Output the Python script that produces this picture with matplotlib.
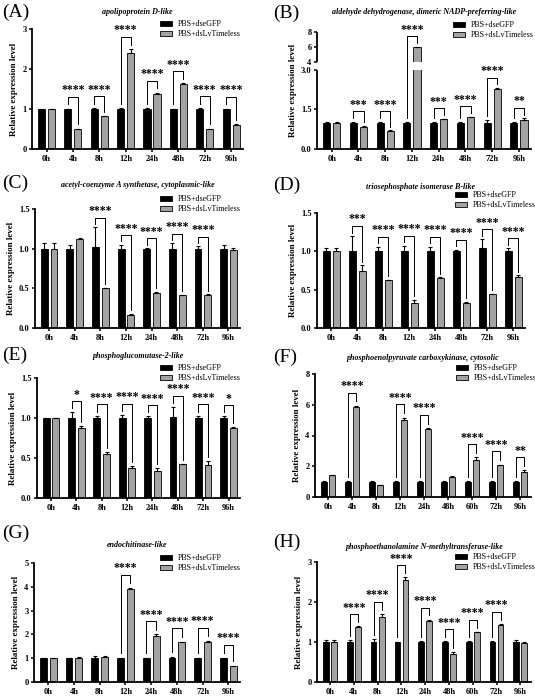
import numpy as np
import matplotlib
matplotlib.use("Agg")
from matplotlib import pyplot as plt
from matplotlib.ticker import FixedLocator, FixedFormatter

plt.rcParams['font.family'] = ['Liberation Serif', 'DejaVu Serif']

times8 = ["0h", "4h", "8h", "12h", "24h", "48h", "72h", "96h"]
times9 = ["0h", "4h", "8h", "12h", "24h", "48h", "60h", "72h", "96h"]

# (A) apolipoprotein D-like
a_ctrl = [1, 1, 1, 1, 1, 1, 1, 1]
a_ctrl_err = [0.01, 0.01, 0.02, 0.02, 0.02, 0.01, 0.02, 0.01]
a_kd = [1.0, 0.5, 0.82, 2.4, 1.38, 1.62, 0.5, 0.6]
a_kd_err = [0.01, 0.01, 0.01, 0.1, 0.03, 0.02, 0.01, 0.02]
a_sig = ["", "****", "****", "****", "****", "****", "****", "****"]

# (B) aldehyde dehydrogenase
b_ctrl = [1, 1, 1, 1, 1, 1, 1, 1]
b_ctrl_err = [0.03, 0.03, 0.03, 0.03, 0.02, 0.03, 0.1, 0.04]
b_kd = [1.0, 0.85, 0.68, 6.0, 1.12, 1.2, 2.28, 1.1]
b_kd_err = [0.04, 0.02, 0.03, 0.05, 0.03, 0.02, 0.03, 0.06]
b_sig = ["", "***", "****", "****", "***", "****", "****", "**"]

# (C) acetyl-coenzyme A synthetase
c_ctrl = [1.0, 1.0, 1.02, 1.0, 1.0, 1.0, 1.0, 1.0]
c_ctrl_err = [0.07, 0.05, 0.25, 0.05, 0.01, 0.07, 0.03, 0.05]
c_kd = [1.0, 1.12, 0.5, 0.17, 0.44, 0.41, 0.41, 0.98]
c_kd_err = [0.07, 0.01, 0.01, 0.01, 0.02, 0.01, 0.02, 0.03]
c_sig = ["", "", "****", "****", "****", "****", "****", ""]

# (D) triosephosphate isomerase B-like
d_ctrl = [1.0, 1.01, 1.0, 1.0, 1.0, 1.0, 1.05, 1.0]
d_ctrl_err = [0.05, 0.19, 0.06, 0.07, 0.06, 0.02, 0.11, 0.04]
d_kd = [1.0, 0.74, 0.62, 0.33, 0.65, 0.33, 0.44, 0.66]
d_kd_err = [0.05, 0.08, 0.01, 0.04, 0.01, 0.01, 0.01, 0.03]
d_sig = ["", "***", "****", "****", "****", "****", "****", "****"]

# (E) phosphoglucomutase-2-like
e_ctrl = [1.0, 1.0, 1.0, 1.0, 1.0, 1.01, 1.0, 1.0]
e_ctrl_err = [0.005, 0.07, 0.03, 0.04, 0.02, 0.13, 0.03, 0.02]
e_kd = [1.0, 0.87, 0.55, 0.38, 0.34, 0.42, 0.41, 0.88]
e_kd_err = [0.005, 0.03, 0.02, 0.02, 0.03, 0.01, 0.05, 0.005]
e_sig = ["", "*", "****", "****", "****", "****", "****", "*"]

# (F) phosphoenolpyruvate carboxykinase
f_ctrl = [1, 1, 1, 1, 1, 1, 1, 1, 1]
f_ctrl_err = [0.02, 0.02, 0.02, 0.02, 0.02, 0.02, 0.02, 0.02, 0.02]
f_kd = [1.42, 5.88, 0.78, 5.02, 4.45, 1.3, 2.42, 2.08, 1.65]
f_kd_err = [0.03, 0.05, 0.03, 0.15, 0.03, 0.04, 0.15, 0.03, 0.08]
f_sig = ["", "****", "", "****", "****", "", "****", "****", "**"]

# (G) endochitinase-like
g_ctrl = [1, 1, 1, 1, 1, 1, 1, 1]
g_ctrl_err = [0.02, 0.01, 0.08, 0.02, 0.02, 0.07, 0.01, 0.02]
g_kd = [1.0, 1.0, 1.07, 3.9, 1.95, 1.68, 1.7, 0.67]
g_kd_err = [0.02, 0.03, 0.03, 0.05, 0.05, 0.02, 0.02, 0.02]
g_sig = ["", "", "", "****", "****", "****", "****", "****"]

# (H) phosphoethanolamine N-methyltransferase-like
h_ctrl = [1, 1, 1, 1, 1, 1, 1, 1, 1]
h_ctrl_err = [0.04, 0.04, 0.07, 0.01, 0.02, 0.02, 0.02, 0.02, 0.04]
h_kd = [1.0, 1.37, 1.63, 2.55, 1.52, 0.7, 1.24, 1.43, 0.97]
h_kd_err = [0.04, 0.02, 0.07, 0.07, 0.04, 0.04, 0.01, 0.02, 0.04]
h_sig = ["", "****", "****", "****", "****", "****", "****", "****", ""]

W, H = 535, 696
GRAY = "#a3a3a3"


def break_fwd(y):
    y = np.asarray(y, dtype=float)
    return np.where(y <= 3, y, np.where(y < 4, 3 + (y - 3) * 0.3, 3.3 + (y - 4) * 0.285))


def break_inv(t):
    t = np.asarray(t, dtype=float)
    return np.where(t <= 3, t, np.where(t < 3.3, 3 + (t - 3) / 0.3, 4 + (t - 3.3) / 0.285))


def panel(box, letter_pos, title_y, leg_pos, letter, title, labels, ctrl, ctrl_err, kd, kd_err,
          sig, ymax, yticks, ticklabels=None, pad=0.12, broken=False):
    l, r, t, b = box
    ax = fig.add_axes([l / W, 1 - b / H, (r - l) / W, (b - t) / H])
    n = len(labels)
    x = np.arange(n)
    w = 0.27 if n == 8 else 0.24
    off = 0.19 if n == 8 else 0.17
    ekw = dict(elinewidth=0.8, capsize=1.6, capthick=0.8, ecolor="black")
    ax.bar(x - off, ctrl, w, color="black", edgecolor="black", linewidth=0.6,
           yerr=[np.zeros(n), ctrl_err], error_kw=ekw, label="PBS+dseGFP", zorder=2)
    ax.bar(x + off, kd, w, color=GRAY, edgecolor="black", linewidth=0.6,
           yerr=[np.zeros(n), kd_err], error_kw=ekw, label="PBS+dsLvTimeless", zorder=2)
    if broken:
        ax.set_yscale("function", functions=(break_fwd, break_inv))
    ax.set_ylim(0, ymax)
    ax.set_xlim(-0.55, n - 0.55)

    # significance brackets
    for i in range(n):
        if not sig[i]:
            continue
        top1 = ctrl[i] + ctrl_err[i]
        top2 = kd[i] + kd_err[i]
        xs = [i - off, i - off, i + off, i + off]
        if broken:
            t1, t2 = break_fwd(top1), break_fwd(top2)
            hb = max(t1, t2) + pad
            ys = list(break_inv([t1 + pad * 0.35, hb, hb, t2 + pad * 0.35]))
            hs = float(break_inv(hb + 0.02))
        else:
            hb = max(top1, top2) + pad
            ys = [top1 + pad * 0.35, hb, hb, top2 + pad * 0.35]
            hs = hb + ymax * 0.005
        ax.plot(xs, ys, color="black", lw=0.7, zorder=3, clip_on=False)
        ax.text(i, hs, sig[i], ha="center", va="bottom", fontsize=8.5,
                fontweight="bold", zorder=4)

    ax.spines["top"].set_visible(False)
    ax.spines["right"].set_visible(False)
    ax.spines["left"].set_linewidth(1.3)
    ax.spines["bottom"].set_linewidth(1.3)
    ax.tick_params(axis="both", width=1.1, length=2.5, labelsize=6, pad=1.5)
    ax.set_xticks(x)
    ax.set_xticklabels(labels, fontweight="bold")
    ax.yaxis.set_major_locator(FixedLocator(yticks))
    if ticklabels is None:
        ticklabels = [str(v) for v in yticks]
    ax.yaxis.set_major_formatter(FixedFormatter(ticklabels))
    for tl in ax.get_yticklabels():
        tl.set_fontweight("bold")
    ax.set_ylabel("Relative expression level", fontsize=6.5, fontweight="bold", labelpad=3)

    if broken:
        # gap in the axis between 3.0 and 4
        ax.spines["left"].set_visible(False)
        tr = ax.get_yaxis_transform()
        ax.plot([0, 0], [0, 3], color="black", lw=1.3, transform=tr, clip_on=False,
                solid_capstyle="butt")
        ax.plot([0, 0], [4, ymax], color="black", lw=1.3, transform=tr, clip_on=False,
                solid_capstyle="butt")
        ax.axhspan(3.03, 3.97, xmin=0.005, xmax=1, color="white", zorder=2.5, lw=0)

    ax.legend(loc="upper left", bbox_to_anchor=(leg_pos[0] / W, 1 - (leg_pos[1] - 4) / H),
              bbox_transform=fig.transFigure, frameon=False, fontsize=5.8,
              handlelength=1.45, handleheight=0.55, handletextpad=0.7, labelspacing=0.3,
              borderaxespad=0, borderpad=0)
    fig.text(letter_pos[0] / W, 1 - letter_pos[1] / H, letter, fontsize=14,
             ha="left", va="center")
    fig.text((l + r) / 2 / W, 1 - title_y / H, title, fontsize=5.8, fontweight="bold",
             style="italic", ha="center", va="center")
    return ax


fig = plt.figure(figsize=(W / 100, H / 100), dpi=100)

panel((32, 243, 29, 149), (2, 12), 12, (160, 24), "(A)", "apolipoprotein D-like", times8,
      a_ctrl, a_ctrl_err, a_kd, a_kd_err, a_sig, 3, [0, 1, 2, 3], pad=0.3)
panel((317, 531, 32, 149), (273, 13), 12, (453, 25), "(B)",
      "aldehyde dehydrogenase, dimeric NADP-preferring-like", times8,
      b_ctrl, b_ctrl_err, b_kd, b_kd_err, b_sig, 8, [0, 1.5, 3, 4, 6, 8],
      ["0.0", "1.5", "3.0", "4", "6", "8"], pad=0.4, broken=True)
panel((35, 240, 209, 328), (2, 183), 185, (160, 199), "(C)",
      "acetyl-coenzyme A synthetase, cytoplasmic-like", times8,
      c_ctrl, c_ctrl_err, c_kd, c_kd_err, c_sig, 1.5, [0, 0.5, 1.0, 1.5],
      ["0.0", "0.5", "1.0", "1.5"], pad=0.12)
panel((317, 525, 213, 328), (273, 185), 187, (455, 195), "(D)",
      "triosephosphate isomerase B-like", times8,
      d_ctrl, d_ctrl_err, d_kd, d_kd_err, d_sig, 1.5, [0, 0.5, 1.0, 1.5],
      ["0.0", "0.5", "1.0", "1.5"], pad=0.13)
panel((37, 240, 378, 498), (2, 355), 356, (160, 368), "(E)", "phosphoglucomutase-2-like", times8,
      e_ctrl, e_ctrl_err, e_kd, e_kd_err, e_sig, 1.5, [0, 0.5, 1.0, 1.5],
      ["0.0", "0.5", "1.0", "1.5"], pad=0.14)
panel((315, 531, 374, 497), (273, 357), 358, (456, 368), "(F)",
      "phosphoenolpyruvate carboxykinase, cytosolic", times9,
      f_ctrl, f_ctrl_err, f_kd, f_kd_err, f_sig, 8, [0, 2, 4, 6, 8], pad=0.85)
panel((34, 240, 563, 682), (2, 533), 545, (160, 558), "(G)", "endochitinase-like", times8,
      g_ctrl, g_ctrl_err, g_kd, g_kd_err, g_sig, 5, [0, 1, 2, 3, 4, 5], pad=0.55)
panel((317, 531, 562, 682), (273, 542), 547, (455, 557), "(H)",
      "phosphoethanolamine N-methyltransferase-like", times9,
      h_ctrl, h_ctrl_err, h_kd, h_kd_err, h_sig, 3, [0, 1, 2, 3], pad=0.3)

fig.savefig("out.png", dpi=100)
